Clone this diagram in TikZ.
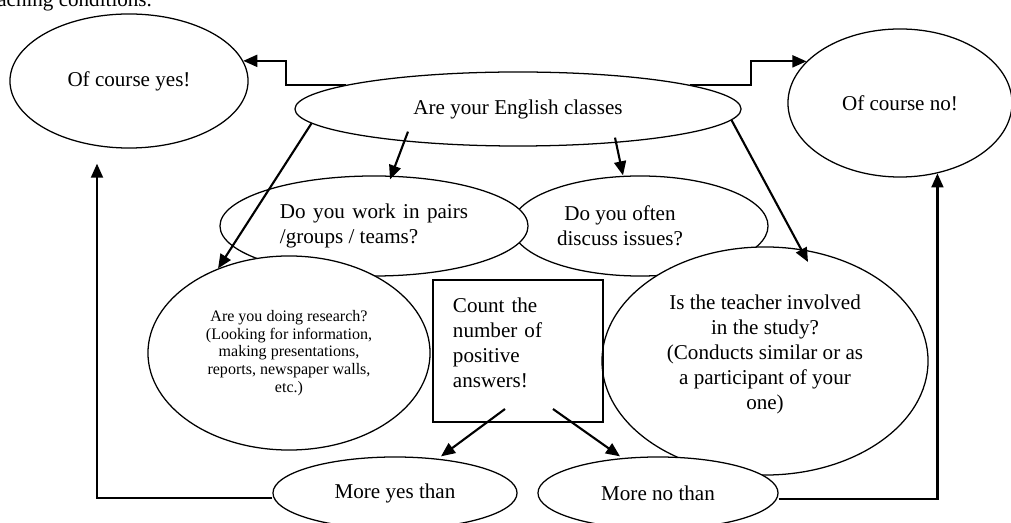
\documentclass[tikz,border=0pt]{standalone}
\usepackage{fontspec}
\setmainfont{Liberation Serif}
\usetikzlibrary{arrows.meta,shapes.geometric}

\begin{document}
\begin{tikzpicture}[x=0.025cm,y=-0.025cm,>={Triangle[length=10pt,width=8.5pt]},
 bubble/.style={draw,ellipse,line width=0.9pt,inner sep=0pt,align=center,fill=white,
  font=\fontsize{15}{17.8}\selectfont},
 box/.style={draw,line width=1.4pt,inner xsep=0.5cm,inner ysep=0pt,text width=3.25cm,
  align=left,minimum height=3.55cm,font=\fontsize{15}{17.8}\selectfont},
 link/.style={->,line width=1.5pt}]
\useasboundingbox (0,0) rectangle (1011,523);
\clip (0,0) rectangle (1011,523);
\node[anchor=base west,inner sep=0pt,font=\fontsize{15}{17.8}\selectfont] (head) at (-3,7) {aching conditions.};
\node[bubble,minimum width=5.95cm,minimum height=3.35cm] (yes) at (129,81) {Of course yes!};
\node[bubble,minimum width=5.6cm,minimum height=3.7cm] (no) at (900,103) {Of course no!};
\node[bubble,minimum width=11.15cm,minimum height=1.85cm] (are) at (518,109) {Are your English classes};
\node[bubble,minimum width=6.4cm,minimum height=2.5cm] (often) at (640,226)
 {Do you often\hspace*{1cm}\\discuss issues?\hspace*{1cm}};
\node[bubble,minimum width=7.7cm,minimum height=2.5cm] (pairs) at (374,226)
 {\makebox[4.7cm][s]{Do you work in pairs}\\\makebox[4.7cm][l]{/groups / teams?}};
\node[bubble,minimum width=7.05cm,minimum height=4.85cm,font=\fontsize{11.4}{12.6}\selectfont] (research) at (289,353)
 {Are you doing research?\\(Looking for information,\\making presentations,\\reports, newspaper walls,\\etc.)};
\node[bubble,minimum width=8.15cm,minimum height=5.7cm] (teacher) at (765,361)
 {Is the teacher involved\\in the study?\\(Conducts similar or as\\a participant of your\\one)\\[-0.2cm]\mbox{}};
\node[box] (count) at (518,351) {Count the\\number of\\positive\\answers!\\[-0.2cm]\mbox{}};
\node[bubble,minimum width=6.1cm,minimum height=1.8cm] (moreyes) at (395,493) {More yes than};
\node[bubble,minimum width=6cm,minimum height=1.8cm] (moreno) at (658,493) {More no than};
% connectors
\draw[link] (are.172) -- ++(-60,0) |- (yes.10);
\draw[link] (are.8) -- ++(61,0) |- (no.156);
\draw[link] (are.184) -- (research.130);
\draw[link] ([shift={(-110,-15)}]are.south) -- ([shift={(16,4)}]pairs.north);
\draw[link] ([shift={(97,-9)}]are.south) -- ([shift={(-17,0)}]often.north);
\draw[link] (are.357) -- ([shift={(43,-99)}]teacher.center);
\draw[link] ([shift={(-13,-14)}]count.south) -- ([shift={(46,0)}]moreyes.north);
\draw[link] ([shift={(35,-14)}]count.south) -- ([shift={(-38,0)}]moreno.north);
\draw[link] ([shift={(0,5)}]moreyes.west) -| ([shift={(-32,15)}]yes.south);
\draw[link] ([shift={(0,6)}]moreno.east) -| (no.-62);
\end{tikzpicture}
\end{document}
